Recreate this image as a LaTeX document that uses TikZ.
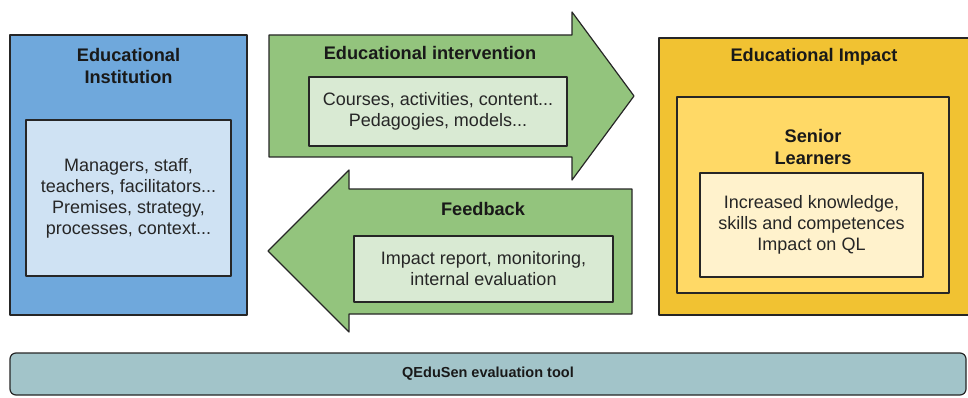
\documentclass[tikz,border=0pt]{standalone}
\usepackage{fontspec}
\setmainfont{Liberation Sans}
\definecolor{blueO}{HTML}{6FA8DC}
\definecolor{blueI}{HTML}{CFE2F3}
\definecolor{greenO}{HTML}{93C47D}
\definecolor{greenI}{HTML}{D9EAD3}
\definecolor{yelO}{HTML}{F1C232}
\definecolor{yelM}{HTML}{FFD966}
\definecolor{yelI}{HTML}{FFF2CC}
\definecolor{cyanB}{HTML}{A2C4C9}
\begin{document}
\begin{tikzpicture}[x=1pt,y=-1pt,line join=round]
\useasboundingbox (0,0) rectangle (968,398);
\tikzset{
  box/.style={draw=black!85, line width=1.2pt, inner sep=0pt},
  txt/.style={font=\fontsize{18}{21}\selectfont, align=center, text=black!85},
  ttl/.style={font=\fontsize{18.2}{22}\selectfont\bfseries, align=center, text=black!90},
}
% Educational institution
\node[box, fill=blueO, minimum width=237pt, minimum height=280pt] (inst) at (128.5,175) {};
\node[ttl] (instT) at (128.5,66) {Educational\\Institution};
\node[box, fill=blueI, minimum width=205pt, minimum height=156pt, txt] (instI) at (128.5,198)
  {Managers, staff,\\teachers, facilitators...\\Premises, strategy,\\processes, context...};
% Intervention arrow
\draw[box, fill=greenO] (269,35) -- (572,35) -- (572,12) -- (634,96) -- (572,180) -- (572,157) -- (269,157) -- cycle;
\node[ttl] (intT) at (430,53) {Educational intervention};
\node[box, fill=greenI, minimum width=258pt, minimum height=69pt, txt] (intI) at (438,111.5)
  {Courses, activities, content...\\Pedagogies, models...};
% Feedback arrow
\draw[box, fill=greenO] (632,189) -- (349,189) -- (349,170) -- (268,251) -- (349,332) -- (349,314) -- (632,314) -- cycle;
\node[ttl] (fbT) at (483,209) {Feedback};
\node[box, fill=greenI, minimum width=259pt, minimum height=66pt, txt] (fbI) at (483.5,269)
  {Impact report, monitoring,\\internal evaluation};
% Educational impact
\draw[box, fill=yelO] (659,38) rectangle (972,315);
\node[ttl] (impT) at (814,57) {Educational Impact};
\node[box, fill=yelM, minimum width=272pt, minimum height=196pt] (sen) at (813,195) {};
\node[ttl] (senT) at (813,146.5) {Senior\\Learners};
\node[box, fill=yelI, minimum width=223pt, minimum height=104pt, txt] (senI) at (811.5,225)
  {Increased knowledge,\\skills and competences\\Impact on QL};
% Bottom bar
\node[box, fill=cyanB, rounded corners=6pt, minimum width=956pt, minimum height=42pt,
  font=\fontsize{14.5}{18}\selectfont\bfseries, text=black!90] (tool) at (488,374) {QEduSen evaluation tool};
\end{tikzpicture}
\end{document}
